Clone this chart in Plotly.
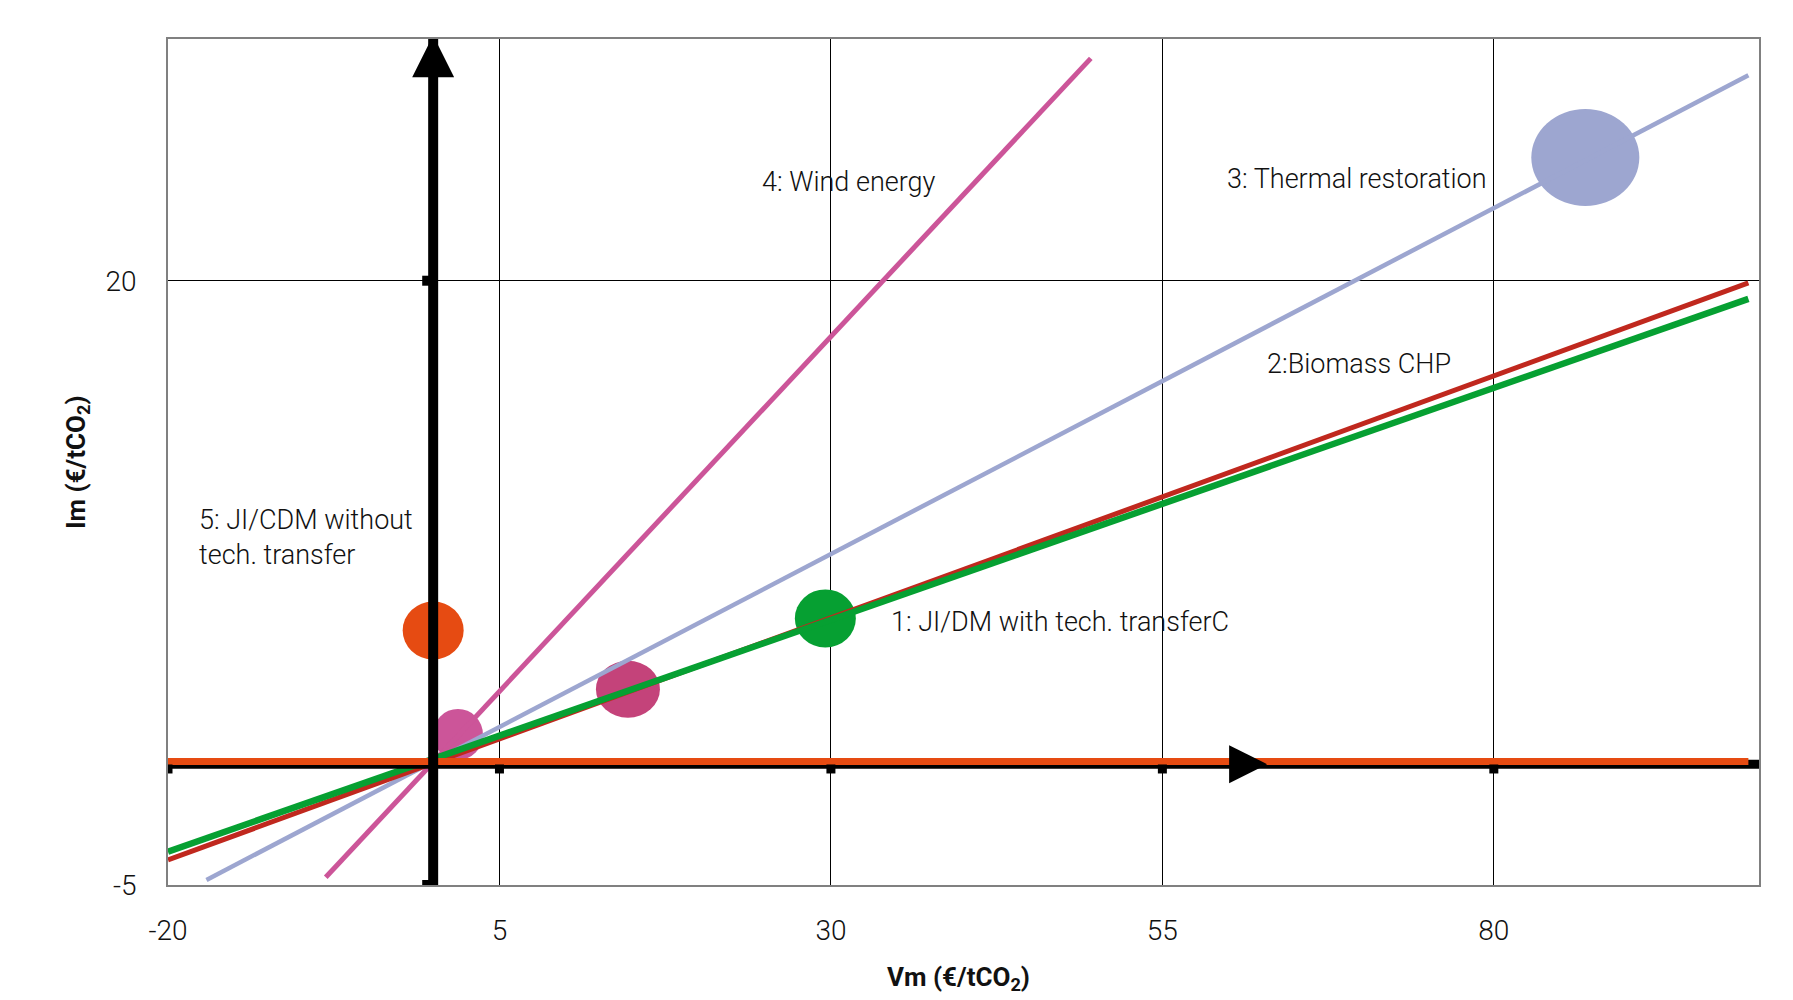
import plotly.graph_objects as go

# ---------------- data ----------------
x_ticks = [-20, 5, 30, 55, 80]
x_tick_labels = ["-20", "5", "30", "55", "80"]
y_ticks = [-5, 20]
y_tick_labels = ["-5", "20"]
x_range = [-20, 100]
y_range = [-5, 30]

# project lines (Vm, Im) end points
line1_x = [-20, 99.2]
line1_y = [-3.62, 19.25]
line2_x = [-20, 99.2]
line2_y = [-3.96, 19.91]
line3_x = [-17.1, 99.2]
line3_y = [-4.79, 28.5]
line4_x = [-8.1, 49.6]
line4_y = [-4.68, 29.2]
line5_x = [-20, 99.2]
line5_y = [0.11, 0.11]

# project points (ellipse centres)
point_vm = [0.0, 1.87, 14.69, 29.58, 86.9]
point_im = [5.53, 1.23, 3.10, 6.03, 25.1]

# axis arrows
axis_x_end = 62.9
axis_y_end = 30.15

# labels
label_text = ["4: Wind energy", "3: Thermal restoration", "2:Biomass CHP",
              "1: JI/DM with tech. transferC", "5: JI/CDM without<br>tech. transfer"]
label_x = [31.4, 69.7, 69.8, 34.4, -17.85]
label_y = [24.1, 24.2, 16.55, 5.9, 9.38]
label_anchor = ["center", "center", "center", "left", "left"]

# ---------------- style ----------------
W, H = 1793, 1000
ML, MR, MT, MB = 168, 34, 39, 115
px_x = (W - ML - MR) / (x_range[1] - x_range[0])
px_y = (H - MT - MB) / (y_range[1] - y_range[0])

C_ORANGE = "#E64B12"
C_PINK = "#CC5599"
C_DPINK = "#C4437A"
C_LAV = "#9DA6D0"
C_RED = "#C0281E"
C_GREEN = "#06A032"

point_colors = [C_ORANGE, C_PINK, C_DPINK, C_GREEN, C_LAV]
point_px_w = [61, 50, 64, 61, 108]
point_px_h = [58, 51, 57, 58, 97]

FONT = "Roboto, Liberation Sans, Arial, sans-serif"

fig = go.Figure()

# ellipses (between grid and traces)
for cx, cy, c, w, h in zip(point_vm, point_im, point_colors, point_px_w, point_px_h):
    rx = w / 2 / px_x
    ry = h / 2 / px_y
    fig.add_shape(type="circle", xref="x", yref="y",
                  x0=cx - rx, x1=cx + rx, y0=cy - ry, y1=cy + ry,
                  fillcolor=c, line=dict(width=0), layer="between")

def add_line(x, y, color, width):
    fig.add_trace(go.Scatter(x=x, y=y, mode="lines", line=dict(color=color, width=width),
                             hoverinfo="skip", showlegend=False))

add_line(line3_x, line3_y, C_LAV, 4.5)
add_line(line4_x, line4_y, C_PINK, 5)
add_line(line2_x, line2_y, C_RED, 5)
add_line(line1_x, line1_y, C_GREEN, 6.5)

# black horizontal axis line
add_line([x_range[0], x_range[1]], [0, 0], "black", 9)
# orange line 5
add_line(line5_x, line5_y, C_ORANGE, 7)
# black vertical axis
add_line([0, 0], [y_range[0], y_range[1]], "black", 10)

# arrowheads
fig.add_trace(go.Scatter(x=[0], y=[axis_y_end], mode="markers",
                         marker=dict(symbol="arrow-up", size=42, color="black", line=dict(width=0)),
                         hoverinfo="skip", showlegend=False))
fig.add_trace(go.Scatter(x=[axis_x_end], y=[0], mode="markers",
                         marker=dict(symbol="arrow-right", size=38, color="black", line=dict(width=0)),
                         hoverinfo="skip", showlegend=False))

# tick squares
fig.add_trace(go.Scatter(x=x_ticks, y=[-0.2] * len(x_ticks), mode="markers",
                         marker=dict(symbol="square", size=9, color="black", line=dict(width=0)),
                         hoverinfo="skip", showlegend=False))
fig.add_trace(go.Scatter(x=[-0.45] * len(y_ticks), y=y_ticks, mode="markers",
                         marker=dict(symbol="square", size=10, color="black", line=dict(width=0)),
                         hoverinfo="skip", showlegend=False))

# labels
for t, lx, ly, a in zip(label_text, label_x, label_y, label_anchor):
    fig.add_annotation(x=lx, y=ly, xref="x", yref="y", text=t, showarrow=False,
                       xanchor=a, yanchor="middle", align="left",
                       font=dict(family=FONT, size=27, color="#111", weight=300))

# axis titles
fig.add_annotation(x=0.497, y=0, xref="paper", yref="paper", yshift=-93,
                   text="<b>Vm (€/tCO<sub>2</sub>)</b>", showarrow=False,
                   xanchor="center", yanchor="middle",
                   font=dict(family=FONT, size=26, color="#111"))
fig.add_annotation(x=0, y=0.5, xref="paper", yref="paper", xshift=-91,
                   text="<b>Im (€/tCO<sub>2</sub>)</b>", showarrow=False, textangle=-90,
                   xanchor="center", yanchor="middle",
                   font=dict(family=FONT, size=26, color="#111"))

fig.update_layout(
    width=W, height=H,
    margin=dict(l=ML, r=MR, t=MT, b=MB),
    paper_bgcolor="white", plot_bgcolor="white",
    showlegend=False,
    font=dict(family=FONT, size=28, color="#111"),
    xaxis=dict(range=x_range, tickvals=x_ticks, ticktext=x_tick_labels,
               showgrid=True, gridcolor="black", gridwidth=1,
               zeroline=False, showline=True, linecolor="#808080", linewidth=1.5, mirror=True,
               ticks="", ticklabelstandoff=20,
               tickfont=dict(family=FONT, size=28, weight=300)),
    yaxis=dict(range=y_range, tickvals=y_ticks, ticktext=y_tick_labels,
               showgrid=True, gridcolor="black", gridwidth=1,
               zeroline=False, showline=True, linecolor="#808080", linewidth=1.5, mirror=True,
               ticks="", ticklabelstandoff=24,
               tickfont=dict(family=FONT, size=28, weight=300)),
)

fig.write_html("out.html", config={"displayModeBar": False},
               post_script="document.body.style.margin='0';")
